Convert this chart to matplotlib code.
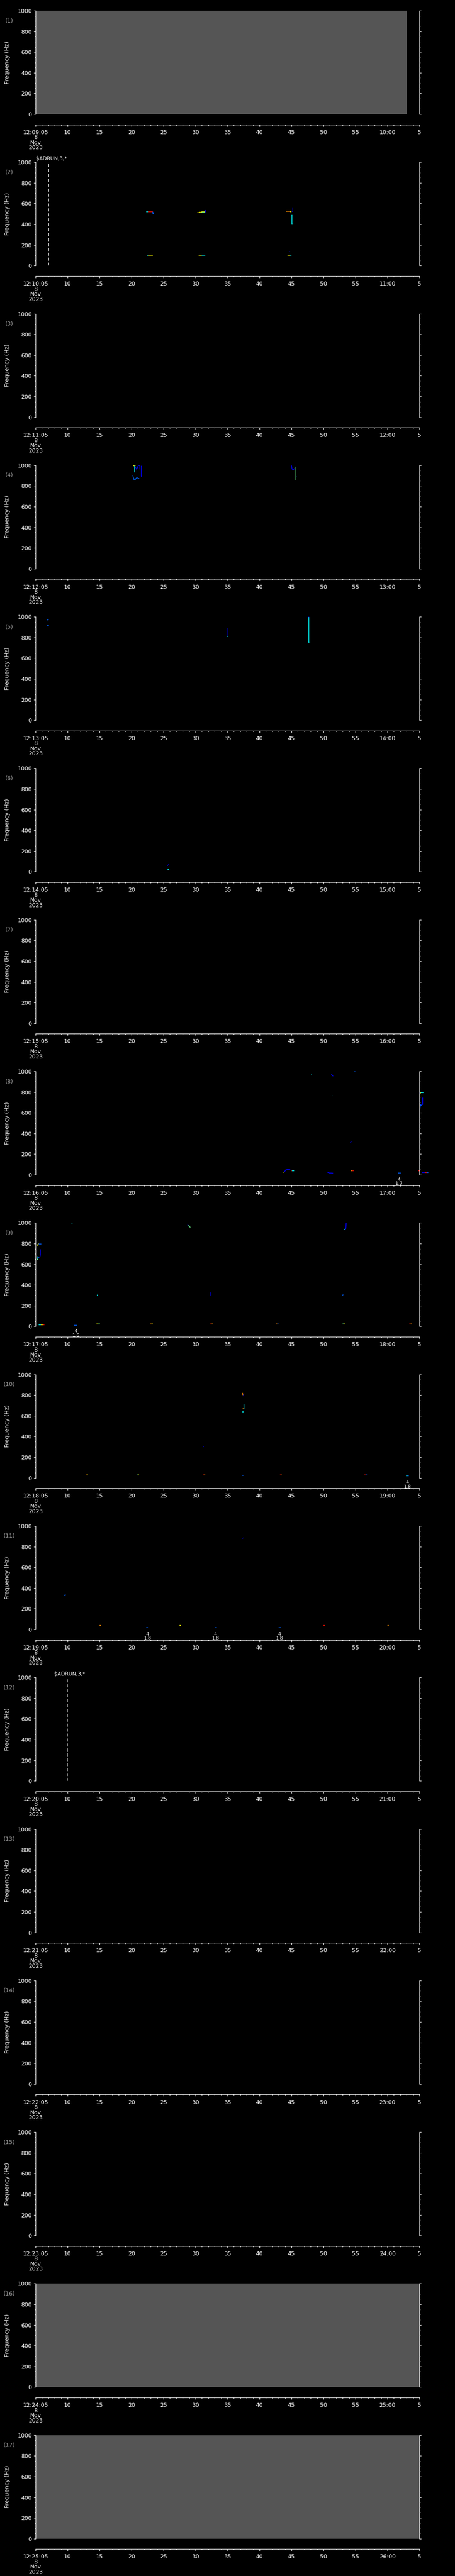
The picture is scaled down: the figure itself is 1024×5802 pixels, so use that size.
import numpy as np
import matplotlib
matplotlib.use("Agg")
from matplotlib import pyplot as plt

# figure geometry, in pixels of the 1024 x 5802 output
W, H = 1024, 5802
N_PANELS = 17
PANEL_H = H / N_PANELS
AX_LEFT, AX_RIGHT = 80, 944
AX_TOP, AX_BOT = 24, 257          # offsets inside a panel

start_minutes = list(range(9, 26))  # 12:09:05 ... 12:25:05
date_lines = ["8", "Nov", "2023"]

# gray "no data" blocks: panel -> (t_start, t_end) in seconds
gray_blocks = {1: (0, 58.06), 16: (0, 60), 17: (0, 60)}

# command markers: panel -> (time offset, label)
markers = {2: (2.0, "$ADRUN,3,*"), 12: (4.9, "$ADRUN,3,*")}

# colour codes used by the traces
palette = {"b": "#0000ff", "d": "#0060ff", "c": "#00ffff", "g": "#70ff90",
           "y": "#ffff00", "o": "#ff9000", "r": "#ff1000"}

# traces: panel -> list of (times [s], freqs [Hz], colour code)
traces = {
    2: [([17.3, 17.6], [521, 521], "c"), ([17.6, 18.3], [521, 521], "r"),
        ([18.3, 18.3, 18.45], [521, 502, 502], "d"),
        ([17.45, 17.6], [100, 100], "c"), ([17.6, 18.3], [100, 100], "y"),
        ([25.3, 25.6, 25.6, 26.0, 26.0, 26.5], [514, 514, 518, 518, 522, 522], "y"),
        ([26.0, 26.5], [516, 516], "g"), ([26.5, 26.5, 26.6], [516, 534, 534], "b"),
        ([25.5, 26.0], [102, 102], "y"), ([26.0, 26.5], [102, 102], "c"),
        ([39.2, 40.0], [525, 525], "o"), ([39.8, 40.0], [522, 522], "y"),
        ([40.1, 40.2, 40.2], [525, 525, 563], "b"),
        ([40.05, 40.1, 40.1, 40.15], [490, 490, 403, 403], "c"),
        ([39.6, 39.8], [133, 133], "b"),
        ([39.4, 39.8], [102, 102], "y"), ([39.8, 40.0], [102, 102], "c")],
    4: [([15.3, 15.6], [997, 997], "y"), ([15.5, 15.5], [997, 930], "c"),
        ([15.6, 15.8, 16.05, 16.3, 16.3], [985, 960, 997, 997, 960], "b"),
        ([16.5, 16.5, 16.6], [997, 891, 891], "b"),
        ([15.2, 15.4, 15.6, 15.8, 16.0, 16.2], [901, 858, 862, 880, 876, 870], "d"),
        ([15.5, 15.6], [870, 872], "c"),
        ([40.0, 40.1, 40.3, 40.5], [998, 962, 958, 970], "b"),
        ([40.7, 40.7], [987, 856], "g"), ([40.75, 40.8], [890, 885], "d")],
    5: [([1.75, 2.05], [968, 972], "d"), ([1.75, 2.05], [917, 917], "d"),
        ([30.1, 30.1], [895, 812], "b"), ([30.0, 30.1], [806, 814], "c"),
        ([42.6, 42.75], [998, 998], "b"), ([42.7, 42.7, 42.8], [998, 752, 752], "c")],
    6: [([20.6, 20.8], [58, 71], "b"), ([20.6, 20.85], [25, 25], "c")],
    8: [([43.1, 43.2], [970, 968], "c"),
        ([46.2, 46.3, 46.5], [973, 970, 953], "b"),
        ([49.8, 50.0], [998, 998], "d"),
        ([46.3, 46.4], [766, 766], "c"),
        ([49.2, 49.35], [310, 322], "b"),
        ([38.7, 38.9], [28, 28], "y"),
        ([38.9, 39.1, 39.4, 39.7, 39.8], [28, 48, 52, 52, 46], "b"),
        ([40.0, 40.1], [37, 37], "r"), ([40.1, 40.45], [37, 37], "c"),
        ([45.6, 45.9, 46.5], [26, 18, 16], "b"),
        ([49.3, 49.5], [37, 37], "o"), ([49.5, 49.7], [37, 37], "r"),
        ([56.7, 57.1], [16, 16], "d"),
        ([59.8, 60.0], [38, 38], "r"), ([60.4, 60.8], [21, 21], "b"),
        ([60.8, 61.1], [21, 21], "r"), ([61.1, 61.4], [21, 21], "d"),
        ([60.15, 60.15], [798, 780], "y"), ([60.2, 60.6], [796, 796], "c"),
        ([60.5, 60.5, 60.3], [746, 680, 675], "b"),
        ([60.1, 60.2, 60.3], [648, 680, 665], "d"), ([60.1, 60.15], [648, 650], "y")],
    9: [([5.65, 5.75], [996, 992], "c"),
        ([23.8, 24.0, 24.2], [979, 966, 957], "g"), ([23.75, 23.85], [982, 975], "b"),
        ([48.3, 48.5, 48.55], [936, 945, 997], "b"), ([48.3, 48.35], [936, 942], "c"),
        ([0.2, 0.4, 0.5], [778, 795, 800], "y"), ([0.5, 0.9], [795, 795], "d"),
        ([0.2, 0.3], [643, 650], "y"), ([0.35, 0.35, 0.5], [643, 675, 665], "c"),
        ([0.5, 0.7, 0.75, 0.75], [665, 675, 690, 745], "b"),
        ([9.55, 9.7], [302, 302], "c"),
        ([27.3, 27.3], [297, 326], "b"),
        ([47.95, 48.1], [300, 306], "d"),
        ([0.5, 0.8], [15, 15], "c"), ([0.8, 1.1], [15, 15], "y"), ([1.1, 1.4], [15, 15], "r"),
        ([6.0, 6.5], [12, 12], "d"),
        ([9.5, 9.8], [30, 30], "y"), ([9.8, 10.1], [30, 30], "g"),
        ([17.9, 18.1], [31, 31], "o"), ([18.1, 18.3], [31, 31], "y"),
        ([27.3, 27.5], [31, 31], "r"), ([27.5, 27.7], [31, 31], "o"),
        ([37.6, 37.8], [31, 31], "o"), ([37.8, 38.0], [31, 31], "d"),
        ([48.0, 48.2], [31, 31], "g"), ([48.2, 48.4], [31, 31], "y"),
        ([58.4, 58.6], [31, 31], "r"), ([58.6, 58.8], [31, 31], "o")],
    10: [([32.35, 32.4], [821, 800], "o"), ([32.5, 32.55], [807, 788], "b"),
         ([32.6, 32.6], [664, 710], "c"), ([32.35, 32.5], [666, 670], "o"),
         ([32.3, 32.6], [640, 640], "c"),
         ([26.15, 26.25], [307, 298], "b"),
         ([7.9, 8.05], [36, 36], "o"), ([8.05, 8.2], [36, 36], "y"),
         ([15.9, 16.05], [36, 36], "g"), ([16.05, 16.2], [36, 36], "y"),
         ([26.2, 26.35], [36, 36], "r"), ([26.35, 26.5], [36, 36], "o"),
         ([32.3, 32.5], [23, 23], "d"),
         ([38.2, 38.35], [36, 36], "r"), ([38.35, 38.5], [36, 36], "o"),
         ([51.4, 51.6], [36, 36], "r"), ([51.6, 51.8], [38, 38], "d"),
         ([57.9, 58.1], [19, 19], "c"), ([58.1, 58.3], [19, 19], "d")],
    11: [([32.3, 32.5], [880, 885], "b"),
         ([4.5, 4.7], [330, 335], "d"),
         ([17.3, 17.6], [18, 18], "d"), ([28.0, 28.3], [18, 18], "d"),
         ([38.0, 38.3], [18, 18], "d"),
         ([10.0, 10.2], [38, 38], "o"), ([22.5, 22.7], [38, 38], "y"),
         ([45.0, 45.2], [38, 38], "r"), ([55.0, 55.2], [38, 38], "o")],
}

# small two-line annotations below the data: panel -> list of (time, line1, line2)
notes = {8: [(56.8, "4", "1.7")], 9: [(6.3, "4", "1.6")], 10: [(58.1, "4", "1.8")],
         11: [(17.5, "4", "1.8"), (28.1, "4", "1.8"), (38.1, "4", "1.8")]}

FS = 9.2
plt.rcParams["font.family"] = ["DejaVu Sans"]

fig = plt.figure(figsize=(W / 100, H / 100), dpi=100, facecolor="black")

for k in range(N_PANELS):
    panel = k + 1
    top = k * PANEL_H
    ax = fig.add_axes([AX_LEFT / W, 1 - (top + AX_BOT) / H,
                       (AX_RIGHT - AX_LEFT) / W, (AX_BOT - AX_TOP) / H])
    ax.set_facecolor("black")
    ax.set_xlim(0, 60)
    ax.set_ylim(0, 1000)

    if panel in gray_blocks:
        t0, t1 = gray_blocks[panel]
        ax.axvspan(t0, t1, color="#555555", lw=0)

    for ts, fs, c in traces.get(panel, []):
        ax.plot(ts, fs, color=palette[c], lw=1.1, clip_on=False,
                solid_capstyle="butt")

    if panel in markers:
        tm, label = markers[panel]
        ax.axvline(tm, color="white", lw=1.0, dashes=(5, 3))
        ax.text(tm - 1.95, 1005, label, color="white", fontsize=8.3,
                ha="left", va="bottom")

    for tn, l1, l2 in notes.get(panel, []):
        ax.text(tn, -25, l1 + "\n" + l2, color="white", fontsize=7.5,
                ha="center", va="top", linespacing=0.95, clip_on=False)

    ax.spines["top"].set_visible(False)
    for side in ("left", "right", "bottom"):
        ax.spines[side].set_color("white")
        ax.spines[side].set_linewidth(0.9)
    ax.spines["bottom"].set_position(("outward", 17))

    # y axis: both sides, ticks outward
    ax.set_yticks(np.arange(0, 1001, 200))
    ax.set_yticks(np.arange(0, 1001, 50), minor=True)
    ax.tick_params(axis="y", which="both", colors="white", direction="out",
                   left=True, right=True, labelright=False, width=0.9,
                   labelsize=FS, pad=3)
    ax.tick_params(axis="y", which="major", length=3)
    ax.tick_params(axis="y", which="minor", length=1.7)
    ax.set_ylabel("Frequency (Hz)", color="white", fontsize=FS)
    ax.yaxis.set_label_coords(-(AX_LEFT - 23) / (AX_RIGHT - AX_LEFT), 0.5)

    # x axis: seconds after hh:mm:05
    m = start_minutes[k]
    xt = np.arange(0, 61, 5)
    xl = []
    for t in xt:
        s = (5 + t) % 60
        if t == 0:
            xl.append(f"12:{m:02d}:05\n" + "\n".join(date_lines))
        elif s == 0:
            xl.append(f"{m + 1:02d}:00")
        else:
            xl.append(str(s))
    ax.set_xticks(xt)
    ax.set_xticklabels(xl, linespacing=0.85)
    ax.set_xticks(np.arange(0, 61, 1), minor=True)
    ax.tick_params(axis="x", which="both", colors="white", direction="out",
                   width=0.9, labelsize=FS, pad=5)
    ax.tick_params(axis="x", which="major", length=3)
    ax.tick_params(axis="x", which="minor", length=1.7)

    fig.text(20.5 / W, 1 - (top + 47) / H, f"({panel})", color="#a0a0a0",
             fontsize=FS, ha="center", va="center")

fig.savefig("out.png", dpi=100, facecolor="black")
